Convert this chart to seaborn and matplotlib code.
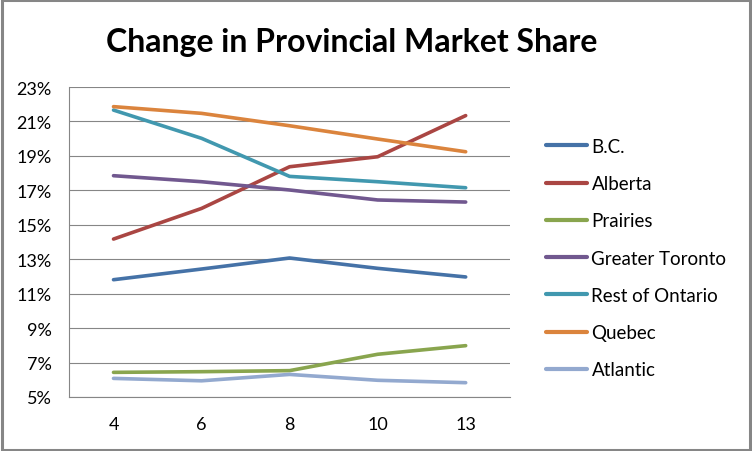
import pandas as pd
import numpy as np
import seaborn as sns
import matplotlib.pyplot as plt
from matplotlib.patches import Rectangle

sns.set_theme(style="white")
plt.rcParams['font.family'] = ['Lato', 'DejaVu Sans']
plt.rcParams['text.color'] = 'black'

periods = ["4", "6", "8", "10", "13"]
regions = ["B.C.", "Alberta", "Prairies", "Greater Toronto",
           "Rest of Ontario", "Quebec", "Atlantic"]

bc =        [11.81, 12.43, 13.07, 12.47, 11.97]
alberta =   [14.17, 15.95, 18.37, 18.95, 21.34]
prairies =  [6.43, 6.47, 6.53, 7.48, 7.98]
toronto =   [17.85, 17.50, 17.02, 16.44, 16.32]
ontario =   [21.66, 20.02, 17.81, 17.50, 17.15]
quebec =    [21.86, 21.47, 20.75, 19.98, 19.24]
atlantic =  [6.08, 5.94, 6.31, 5.97, 5.83]

colors = ["#4572A7", "#AA4643", "#89A54E", "#71588F",
          "#4198AF", "#DB843D", "#93A9CF"]

series = [bc, alberta, prairies, toronto, ontario, quebec, atlantic]
rows = []
for name, vals in zip(regions, series):
    for p, v in zip(periods, vals):
        rows.append({"Period": p, "Share": v, "Region": name})
df = pd.DataFrame(rows)

fig = plt.figure(figsize=(7.52, 4.52), dpi=100)
ax = fig.add_axes([0.0924, 0.1195, 0.5854, 0.6858])

sns.lineplot(data=df, x="Period", y="Share", hue="Region", hue_order=regions,
             palette=colors, linewidth=2.6, sort=False, ax=ax, legend=False)

ax.set_xlim(-0.5, 4.5)
ax.set_ylim(5, 23)
ax.set_yticks(np.arange(5, 24, 2))
ax.set_yticklabels([f"{v}%" for v in range(5, 24, 2)])
ax.yaxis.grid(True, color="#868686", linewidth=0.8)
ax.xaxis.grid(False)
ax.set_xlabel("")
ax.set_ylabel("")
for s in ["top", "right"]:
    ax.spines[s].set_visible(False)
for s in ["left", "bottom"]:
    ax.spines[s].set_color("#868686")
    ax.spines[s].set_linewidth(0.8)
ax.tick_params(axis="both", length=0, labelsize=13, colors="black")
ax.tick_params(axis="y", pad=13)
ax.tick_params(axis="x", pad=14)

handles = [plt.Line2D([], [], color=c, linewidth=3) for c in colors]
leg = fig.legend(handles, regions, loc="upper left", bbox_to_anchor=(0.703, 0.73),
                 frameon=False, fontsize=13.5, handlelength=2.2, handletextpad=0.25,
                 labelspacing=1.08)
for t in leg.get_texts():
    t.set_color("black")

fig.suptitle("Change in Provincial Market Share", x=0.4675, y=0.937,
             fontsize=23, fontweight="bold", color="black")

fig.patches.append(Rectangle((0.002, 0.003), 0.995, 0.994, transform=fig.transFigure,
                             fill=False, edgecolor="#868686", linewidth=2.2))

plt.savefig("out.png", dpi=100)
